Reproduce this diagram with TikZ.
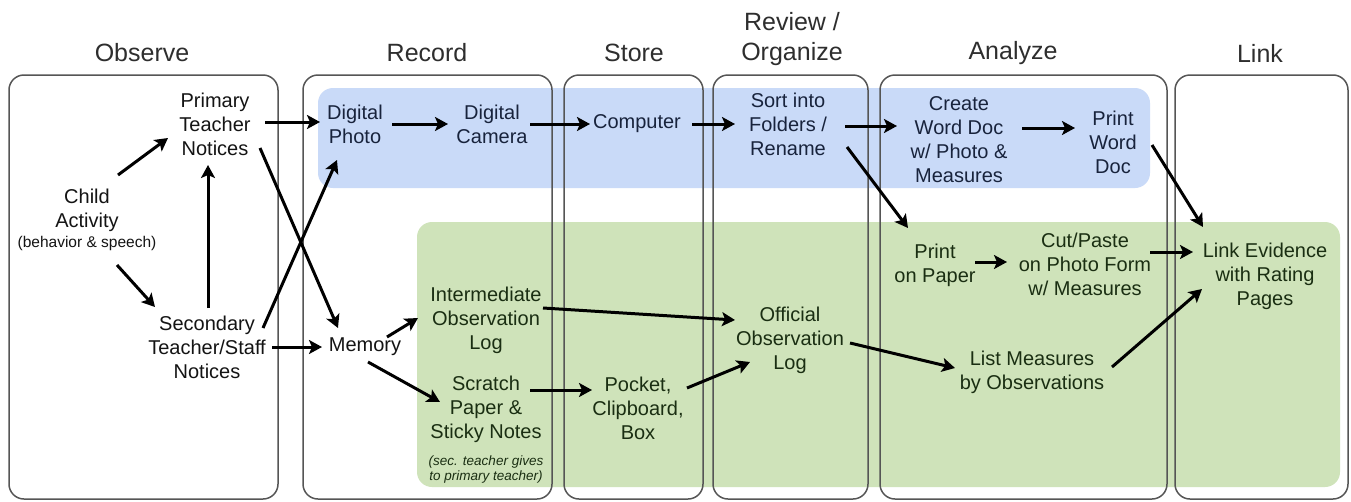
\documentclass[tikz,border=0pt]{standalone}
\usepackage{fontspec}
\setmainfont{Liberation Sans}
\usetikzlibrary{arrows.meta,calc}
\definecolor{bandblue}{HTML}{C9DAF8}
\definecolor{bandgreen}{HTML}{CFE3BA}
\definecolor{boxgray}{HTML}{555555}
\definecolor{titlegray}{HTML}{2E2E2E}
\definecolor{bluetext}{HTML}{18233C}
\definecolor{greentext}{HTML}{1A2E12}
\definecolor{plaintext}{HTML}{141414}
\begin{document}
\begin{tikzpicture}[x=1pt,y=-1pt,
  every node/.style={font=\fontsize{20}{24}\selectfont, align=center, inner sep=0pt},
  col/.style={draw=boxgray, line width=1.5pt, rounded corners=15pt},
  band/.style={rounded corners=15pt},
  title/.style={font=\fontsize{25}{30}\selectfont, text=titlegray},
  arr/.style={-{Stealth[length=13pt,width=14pt,inset=3pt]}, line width=3pt, black},
  bt/.style={text=bluetext}, gt/.style={text=greentext}, wt/.style={text=plaintext},
  smalltxt/.style={font=\fontsize{15.5}{17}\selectfont},
  notetxt/.style={font=\fontsize{13.5}{15}\selectfont\itshape, text=greentext}]
\useasboundingbox (0,0) rectangle (1351,501);
\fill[white] (0,0) rectangle (1351,501);
% bands
\fill[bandblue, band] (318,88) rectangle (1150,188);
\fill[bandgreen, band] (417,222) rectangle (1340,487);
% column boxes
\draw[col] (9,75) rectangle (278,499);
\draw[col] (303,75) rectangle (552,499);
\draw[col] (564,75) rectangle (703,499);
\draw[col] (713,75) rectangle (868,499);
\draw[col] (880,75) rectangle (1167,499);
\draw[col] (1175,75) rectangle (1348,499);
% titles
\node[title] (tobs) at (142,53) {Observe};
\node[title] (trec) at (427,53) {Record};
\node[title] (tsto) at (634,53) {Store};
\node[title] (trev) at (792,39) {Review /\\Organize};
\node[title] (tana) at (1013,53) {Analyze};
\node[title] (tlin) at (1260,53) {Link};
% nodes
\node[wt] (ca) at (87,210) {Child\\Activity};
\node[wt, smalltxt] (cab) at (87,243) {(behavior \& speech)};
\node[wt] (pt) at (215,124) {Primary\\Teacher\\Notices};
\node[wt] (st) at (207,347) {Secondary\\Teacher/Staff\\Notices};
\node[bt] (dp) at (355,124) {Digital\\Photo};
\node[wt] (mem) at (365,347) {Memory};
\node[bt] (cam) at (492,124) {Digital\\Camera};
\node[bt] (comp) at (637,124) {Computer};
\node[bt] (sort) at (788,124) {Sort into\\Folders /\\Rename};
\node[gt] (inter) at (486,320) {Intermediate\\Observation\\Log};
\node[gt] (scr) at (486,409) {Scratch\\Paper \&\\Sticky Notes};
\node[notetxt] (note) at (486,470) {(sec. teacher gives\\to primary teacher)};
\node[gt] (pock) at (638,408) {Pocket,\\Clipboard,\\Box};
\node[gt] (off) at (790,340) {Official\\Observation\\Log};
\node[bt] (cwd) at (959,140) {Create\\Word Doc\\w/ Photo \&\\Measures};
\node[bt] (pwd) at (1113,142) {Print\\Word\\Doc};
\node[gt] (pop) at (935,265) {Print\\on Paper};
\node[gt] (cut) at (1085,264) {Cut/Paste\\on Photo Form\\w/ Measures};
\node[gt] (link) at (1265,276) {Link Evidence\\with Rating\\Pages};
\node[gt] (list) at (1032,372) {List Measures\\by Observations};
% arrows
\draw[arr] ($(ca)+(31,-35)$) -- ($(pt)+(-47,14)$);
\draw[arr] ($(ca)+(30,55)$) -- ($(st)+(-52,-40)$);
\draw[arr] ($(st)+(1,-39)$) -- ($(pt)+(-7,41)$);
\draw[arr] ($(st)+(56,-19)$) -- ($(dp)+(-18,36)$);
\draw[arr] ($(pt)+(45,24)$) -- ($(mem)+(-27,-19)$);
\draw[arr] ($(pt)+(50,-2)$) -- ($(dp)+(-35,-2)$);
\draw[arr] ($(st)+(65,0)$) -- ($(mem)+(-43,0)$);
\draw[arr] ($(mem)+(22,-10)$) -- ($(inter)+(-68,-2)$);
\draw[arr] ($(mem)+(3,15)$) -- ($(scr)+(-46,-7)$);
\draw[arr] ($(dp)+(37,0)$) -- ($(cam)+(-44,0)$);
\draw[arr] ($(cam)+(38,0)$) -- ($(comp)+(-47,0)$);
\draw[arr] ($(comp)+(55,0)$) -- ($(sort)+(-53,0)$);
\draw[arr] ($(sort)+(57,2)$) -- ($(cwd)+(-62,-14)$);
\draw[arr] ($(sort)+(59,23)$) -- ($(pop)+(-27,-37)$);
\draw[arr] ($(cwd)+(63,-12)$) -- ($(pwd)+(-38,-14)$);
\draw[arr] ($(pwd)+(39,3)$) -- ($(link)+(-62,-49)$);
\draw[arr] ($(pop)+(40,-3)$) -- ($(cut)+(-78,-2)$);
\draw[arr] ($(cut)+(65,-12)$) -- ($(link)+(-72,-24)$);
\draw[arr] ($(list)+(80,-5)$) -- ($(link)+(-63,13)$);
\draw[arr] ($(off)+(60,3)$) -- ($(list)+(-77,-4)$);
\draw[arr] ($(inter)+(57,-12)$) -- ($(off)+(-55,-20)$);
\draw[arr] ($(scr)+(44,-19)$) -- ($(pock)+(-46,-18)$);
\draw[arr] ($(pock)+(49,-20)$) -- ($(off)+(-40,22)$);
\end{tikzpicture}
\end{document}
